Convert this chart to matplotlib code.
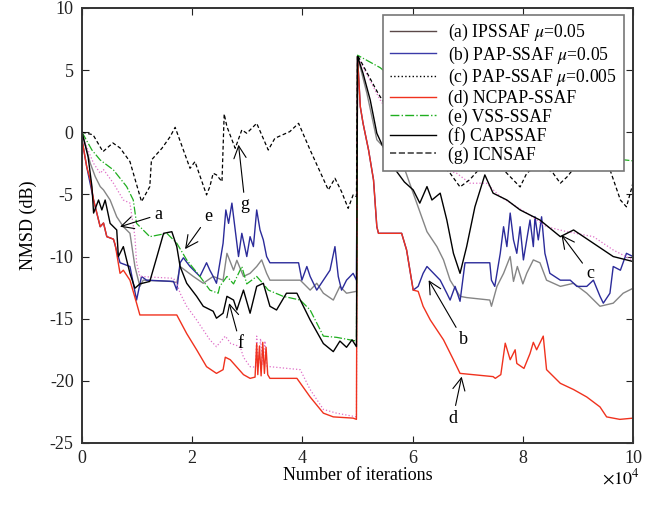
#NMSD learning curves of the subband adaptive filters, recreated from the figure

import matplotlib
matplotlib.use('Agg')
import matplotlib.pyplot as plt
from matplotlib.lines import Line2D

plt.rcParams['font.family'] = ['Liberation Serif', 'DejaVu Serif']
plt.rcParams['mathtext.fontset'] = 'stix'
plt.rcParams['axes.unicode_minus'] = False

# x values are in units of 1e4 iterations, y values in dB
x_a = [0, 0.15, 0.24, 0.33, 0.39, 0.51, 0.63, 0.75, 0.87, 0.96, 1.05, 1.11, 1.6, 1.72, 1.78, 2.02, 2.2, 2.38,
       2.56, 2.63, 2.75, 2.81, 2.93, 3.05, 3.17, 3.26, 3.35, 3.41, 3.96, 4.14, 4.26, 4.38, 4.56, 4.68, 4.8, 4.98,
       5.0, 5.17, 5.35, 5.6, 5.86, 6.01, 6.26, 6.44, 6.56, 6.68, 6.86, 6.98, 7.40, 7.43, 7.53, 7.65, 7.77, 7.83,
       7.9, 8.0, 8.07, 8.19, 8.31, 8.43, 8.68, 8.92, 9.16, 9.4, 9.64, 9.82, 10.0]
y_a = [0, -2.5, -3.57, -4.37, -4.64, -5.45, -6.8, -7.6, -8.13, -10.8, -12.4, -11.9, -12.0, -12.1, -10.8, -11.6,
       -12.15, -11.6, -11.9, -9.74, -11.1, -10.3, -11.6, -11.35, -10.8, -10.27, -11.35, -11.9, -11.9, -12.7, -12.15,
       -12.95, -13.5, -12.4, -12.95, -12.8,
       6.1, 3.13, -0.6, -1.8, -3.03, -4.9, -8.0, -9.2, -10.27, -11.9, -13.2, -13.3, -13.5, -14.0, -12.4, -11.35,
       -10.0, -12.0, -10.8, -12.2, -11.35, -10.27, -10.5, -11.9, -12.4, -12.15, -12.95, -14.0, -13.75, -12.95, -12.55]

x_b = [0, 0.085, 0.21, 0.33, 0.39, 0.45, 0.57, 0.69, 0.87, 0.99, 1.08, 1.17, 1.66, 1.72, 1.78, 1.84, 1.96, 2.14,
       2.26, 2.32, 2.38, 2.44, 2.56, 2.61, 2.66, 2.72, 2.78, 2.84, 2.90, 2.99, 3.05, 3.11, 3.17, 3.23, 3.29, 3.35,
       3.41, 3.93, 3.99, 4.08, 4.14, 4.26, 4.38, 4.50, 4.59, 4.65, 4.71, 4.80, 4.92, 4.98,
       5.0, 5.05, 5.1, 5.2, 5.29, 5.35, 5.38, 5.80, 5.89, 6.01, 6.10, 6.19, 6.26, 6.38, 6.5, 6.62, 6.68, 6.77,
       6.86, 6.95, 7.40, 7.43, 7.49, 7.59, 7.65, 7.71, 7.77, 7.83, 7.89, 7.95, 8.01, 8.07, 8.13, 8.19, 8.22, 8.28,
       8.34, 8.4, 8.49, 8.68, 8.86, 8.98, 9.16, 9.28, 9.40, 9.46, 9.58, 9.64, 9.77, 9.88, 10.0]
y_b = [-0.6, -2.77, -5.45, -7.6, -7.3, -8.4, -8.6, -10.5, -10.8, -13.5, -11.6, -11.9, -12.0, -12.7, -10.5, -10.1,
       -10.8, -11.6, -10.5, -11.1, -11.6, -12.15, -8.93, -6.25, -7.33, -5.7, -7.86, -10.0, -8.13, -10.0, -8.4,
       -9.2, -6.25, -7.86, -8.66, -10.0, -10.5, -10.5, -11.9, -10.8, -11.6, -12.7, -11.9, -11.1, -9.2, -11.6,
       -12.7, -11.9, -11.35, -11.9,
       6.1, 2.06, 0.72, -1.43, -3.84, -7.6, -8.13, -8.13, -9.47, -12.7, -12.4, -11.35, -10.8, -11.35, -11.9,
       -12.95, -13.5, -12.4, -13.6, -10.5, -10.5, -11.9, -12.4, -9.74, -7.6, -9.2, -6.5, -8.66, -9.74, -7.6,
       -10.27, -8.66, -7.06, -9.2, -6.8, -8.66, -6.8, -9.74, -11.35, -11.9, -11.9, -12.4, -12.4, -11.9, -13.2,
       -13.75, -12.95, -10.8, -11.1, -9.74, -10.0]

x_c = [0, 0.21, 0.33, 0.39, 0.57, 0.75, 0.87, 0.96, 0.99, 1.05, 1.66, 1.72, 1.78, 1.90, 2.08, 2.32, 2.44, 2.6,
       2.7, 2.87, 2.93, 3.05, 3.15, 3.17, 3.2, 3.24, 3.28, 3.32, 3.35, 3.41, 3.96, 4.14, 4.38, 4.62, 4.98,
       5.0, 5.41, 5.8, 6.3, 6.8, 7.04, 7.34, 7.59, 8.07, 8.43, 8.8, 9.28, 9.64, 10.0]
y_c = [-0.3, -2.5, -3.3, -3.0, -4.1, -5.45, -5.7, -8.4, -10.5, -11.6, -11.75, -12.15, -12.95, -14.0, -15.1, -16.7,
       -17.25, -16.4, -17.0, -17.25, -18.1, -18.86, -18.9, -16.4, -18.8, -16.6, -18.7, -16.8, -18.8, -18.86,
       -19.1, -20.7, -22.3, -22.6, -22.9,
       6.1, 2.6, 0.0, -2.5, -3.3, -4.1, -4.1, -5.18, -6.5, -7.6, -8.0, -8.4, -9.47, -10.3]

x_d = [0, 0.085, 0.15, 0.21, 0.33, 0.39, 0.45, 0.57, 0.6, 0.69, 0.75, 0.87, 0.99, 1.05, 1.72, 1.90, 2.08, 2.26,
       2.44, 2.56, 2.6, 2.69, 2.81, 2.93, 3.05, 3.14, 3.17, 3.19, 3.22, 3.25, 3.28, 3.31, 3.34, 3.37, 3.41, 3.90,
       4.14, 4.38, 4.56, 4.92, 4.98,
       5.0, 5.05, 5.1, 5.2, 5.29, 5.35, 5.38, 5.80, 5.89, 6.01, 6.10, 6.19, 6.32, 6.56, 6.74, 6.86, 7.46, 7.5,
       7.6, 7.68, 7.77, 7.86, 7.89, 8.02, 8.13, 8.19, 8.25, 8.37, 8.43, 8.68, 8.92, 9.16, 9.40, 9.52, 9.76, 10.0]
y_d = [-0.6, -2.77, -3.8, -5.45, -7.6, -7.3, -8.4, -8.6, -9.0, -11.35, -11.1, -11.9, -13.75, -14.7, -14.7, -16.2,
       -17.5, -18.86, -19.4, -19.1, -18.1, -18.3, -18.9, -19.5, -19.8, -19.7, -17.0, -19.5, -17.2, -19.6, -16.9,
       -19.4, -17.3, -19.5, -19.8, -19.8, -21.3, -22.6, -22.9, -23.0, -23.1,
       6.1, 2.06, 0.72, -1.43, -3.84, -7.6, -8.13, -8.13, -9.47, -12.7, -12.8, -14.0, -15.1, -16.7, -18.3, -19.4,
       -19.66, -19.8, -19.5, -16.97, -18.3, -17.5, -18.6, -19.0, -17.8, -16.9, -17.5, -16.4, -19.1, -20.2, -20.7,
       -21.3, -22.1, -22.9, -23.1, -23.0]

x_e = [0, 0.18, 0.33, 0.57, 0.81, 0.93, 0.99, 1.23, 1.54, 1.72, 1.90, 2.14, 2.32, 2.47, 2.50, 2.63, 2.75, 2.90,
       2.99, 3.17, 3.29, 3.38, 3.65, 3.96, 4.14, 4.38, 4.62, 4.98,
       5.0, 5.41, 6.0, 7.0, 8.0, 9.0, 9.8, 10.0]
y_e = [0, -1.43, -2.23, -3.03, -4.37, -5.45, -7.33, -8.4, -8.13, -8.93, -10.27, -11.6, -12.7, -12.95, -12.4,
       -11.6, -12.2, -10.8, -12.2, -11.6, -12.2, -12.7, -13.2, -13.5, -14.3, -16.4, -16.5, -16.8,
       6.2, 5.2, 3.0, 1.0, -0.5, -1.5, -2.2, -2.3]

x_f = [0, 0.11, 0.18, 0.21, 0.30, 0.36, 0.42, 0.51, 0.63, 0.66, 0.75, 0.87, 0.96, 1.05, 1.23, 1.36, 1.48, 1.63,
       1.72, 1.78, 1.90, 2.08, 2.2, 2.38, 2.44, 2.56, 2.63, 2.75, 2.81, 2.93, 3.05, 3.17, 3.29, 3.41, 3.53, 3.71,
       3.90, 4.14, 4.38, 4.56, 4.68, 4.8, 4.9, 4.98,
       5.0, 5.1, 5.23, 5.35, 5.6, 5.85, 6.01, 6.13, 6.26, 6.35, 6.5, 6.62, 6.74, 6.86, 6.98, 7.13, 7.31, 7.46,
       7.71, 7.95, 8.31, 8.68, 8.92, 9.28, 9.64, 10.0]
y_f = [0, -1.96, -4.37, -6.5, -5.45, -6.25, -5.45, -7.33, -7.86, -10.0, -9.2, -11.35, -12.55, -12.2, -12.0, -10.0,
       -8.13, -8.0, -9.2, -10.8, -12.15, -13.2, -14.0, -14.4, -14.96, -14.56, -13.2, -13.5, -14.3, -12.7, -14.56,
       -12.4, -12.15, -14.0, -14.3, -12.95, -12.95, -15.1, -17.0, -17.65, -16.8, -17.3, -16.7, -17.25,
       6.1, 4.74, 2.6, -0.08, -2.5, -4.0, -4.64, -5.7, -4.37, -5.45, -4.9, -7.06, -9.74, -11.35, -9.2, -6.0,
       -3.43, -4.9, -5.45, -6.25, -7.06, -8.4, -7.86, -8.93, -10.0, -10.4]

x_g = [0, 0.2, 0.38, 0.56, 0.69, 0.87, 1.08, 1.23, 1.26, 1.45, 1.60, 1.69, 1.96, 2.05, 2.26, 2.32, 2.38, 2.44,
       2.54, 2.58, 2.63, 2.78, 2.90, 2.99, 3.17, 3.38, 3.50, 3.77, 3.93, 4.14, 4.47, 4.59, 4.71, 4.83, 4.92, 4.98,
       5.0, 5.37, 5.6, 6.0, 6.4, 6.68, 6.86, 7.04, 7.3, 7.6, 7.95, 8.07, 8.3, 8.55, 8.68, 8.8, 9.0, 9.3, 9.58,
       9.77, 9.88, 9.98, 10.0]
y_g = [0, -0.2, -1.56, -0.86, -1.26, -2.36, -5.58, -4.37, -2.23, -1.29, -0.35, 0.40, -2.9, -2.36, -5.04, -4.37,
       -3.3, -3.43, -3.97, 1.47, 0.45, -1.29, 0.19, -0.08, 0.72, -1.43, -0.48, 0.05, 0.72, -1.43, -4.64, -3.7,
       -4.78, -6.12, -5.04, -5.18,
       6.2, 3.16, 1.5, 0.0, -2.0, -3.3, -4.4, -3.8, -2.5, -2.8, -4.4, -3.3, -2.5, -3.3, -4.1, -3.6, -2.5, -2.2,
       -3.0, -5.45, -6.0, -4.4, -4.0]

labels = ['(a) IPSSAF $\\mu$=0.05', '(b) PAP-SSAF $\\mu$=0.05', '(c) PAP-SSAF $\\mu$=0.005',
          '(d) NCPAP-SSAF', '(e) VSS-SSAF', '(f) CAPSSAF', '(g) ICNSAF']

# letter, text position, arrow tip
notes = [('a', (1.38, -6.65), (0.69, -7.6)),
         ('e', (2.29, -6.8), (1.87, -9.4)),
         ('g', (2.96, -5.85), (2.84, -1.0)),
         ('f', (2.87, -17.0), (2.67, -13.75)),
         ('b', (6.92, -16.7), (6.29, -11.9)),
         ('c', (9.22, -11.35), (8.7, -8.26)),
         ('d', (6.73, -23.0), (6.89, -19.66))]

fig = plt.figure(figsize=(6.54, 5.05), dpi=100)
ax = fig.add_axes([0.1254, 0.1228, 0.8426, 0.8614])

ax.plot(x_a, y_a, color='#858585', lw=1.0)
ax.plot(x_b, y_b, color='#2b2b9a', lw=1.0)
ax.plot(x_c, y_c, color='#e070c8', lw=0.9, ls=':')
ax.plot(x_d, y_d, color='#f0321e', lw=1.0)
ax.plot(x_e, y_e, color='#1fae1f', lw=0.9, ls='-.')
ax.plot(x_f, y_f, color='black', lw=1.0)
ax.plot(x_g, y_g, color='black', lw=0.9, ls=(0, (3, 2)))

for letter, txt, tip in notes:
    ax.annotate(letter, xy=tip, xytext=txt, fontsize=13, ha='center', va='center',
                arrowprops=dict(arrowstyle='->', color='black', lw=0.8, mutation_scale=22,
                                shrinkA=1, shrinkB=0))

handles = [Line2D([], [], color='#5a4848', lw=1.0),
           Line2D([], [], color='#3a3aa8', lw=1.0),
           Line2D([], [], color='black', lw=1.0, ls=':'),
           Line2D([], [], color='#f0321e', lw=1.0),
           Line2D([], [], color='#1fae1f', lw=1.0, ls='-.'),
           Line2D([], [], color='black', lw=1.0),
           Line2D([], [], color='#444444', lw=1.2, ls='--')]
leg = ax.legend(handles, labels, loc='upper right', bbox_to_anchor=(0.984, 0.984), borderaxespad=0,
                fontsize=12.7, fancybox=False, framealpha=1, edgecolor='#777777', handlelength=2.6,
                labelspacing=0.08, borderpad=0.4, handletextpad=0.7)
leg.get_frame().set_linewidth(1.2)

ax.set_xlim(0, 10)
ax.set_ylim(-25, 10)
ax.set_xticks([0, 2, 4, 6, 8, 10])
ax.set_yticks([-25, -20, -15, -10, -5, 0, 5, 10])
ax.tick_params(direction='in', top=True, right=True, length=5, labelsize=13, colors='#222222', pad=6)
ax.tick_params(axis='x', pad=5)
for s in ax.spines.values():
    s.set_linewidth(1.4)
    s.set_color('#333333')

ax.set_xlabel('Number of iterations', fontsize=13, labelpad=0)
ax.set_ylabel('NMSD (dB)', fontsize=13, labelpad=9)
ax.text(1.013, -0.057, '$\\times10^4$', transform=ax.transAxes, ha='right', va='top', fontsize=13)

fig.savefig('out.png', dpi=100)
